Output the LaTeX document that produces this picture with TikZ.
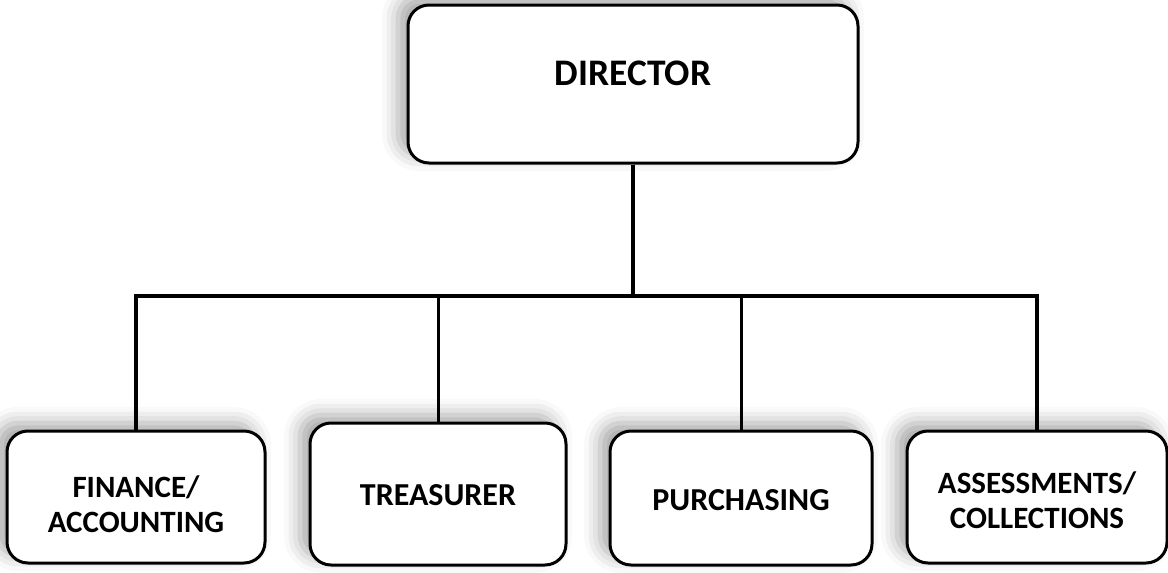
\documentclass[tikz,border=0pt]{standalone}
\usepackage{fontspec}
\setmainfont{Carlito}
\usetikzlibrary{shadows.blur}
\tikzset{
  orgbox/.style={draw=black, line width=3pt, rounded corners=21pt, fill=white,
    align=center, inner sep=0pt, font=\bfseries,
    blur shadow={shadow xshift=-10pt, shadow yshift=8pt, shadow blur radius=16pt, shadow opacity=35}},
  bigtxt/.style={font=\fontsize{37.5}{45}\selectfont\bfseries},
  midtxt/.style={font=\fontsize{32}{38}\selectfont\bfseries},
  smalltxt/.style={font=\fontsize{31}{35}\selectfont\bfseries},
  link/.style={draw=black, line width=3.4pt},
}
\newcommand{\twolines}[3]{\raisebox{#1}[0pt][0pt]{\begin{tabular}[t]{@{}c@{}}#2\\#3\end{tabular}}}
\begin{document}
\begin{tikzpicture}[x=1pt,y=-1pt]
\useasboundingbox (0,0) rectangle (1168,573);
\node[orgbox, bigtxt, minimum width=450pt, minimum height=158pt] (dir) at (633,84) {\raisebox{-1pt}[0pt][0pt]{DIRECTOR}};
\node[orgbox, smalltxt, minimum width=258pt, minimum height=132pt] (fin) at (136,497) {\twolines{0pt}{FINANCE/}{ACCOUNTING}};
\node[orgbox, midtxt, minimum width=256pt, minimum height=142pt] (tre) at (438,494) {\raisebox{-11pt}[0pt][0pt]{TREASURER}};
\node[orgbox, midtxt, minimum width=262pt, minimum height=134pt] (pur) at (741,498) {\raisebox{-12pt}[0pt][0pt]{PURCHASING}};
\node[orgbox, smalltxt, minimum width=260pt, minimum height=132pt] (ass) at (1037,497) {\twolines{4pt}{ASSESSMENTS/}{COLLECTIONS}};
\coordinate (bus) at (633,296);
\draw[link, line width=4pt] (dir.south) -- (bus);
\draw[link, line join=miter] (fin.north) |- (bus) -| (ass.north);
\draw[link, line width=3pt] (tre.north |- bus) -- (tre.north);
\draw[link, line width=3pt] (pur.north |- bus) -- (pur.north);
\end{tikzpicture}
\end{document}
